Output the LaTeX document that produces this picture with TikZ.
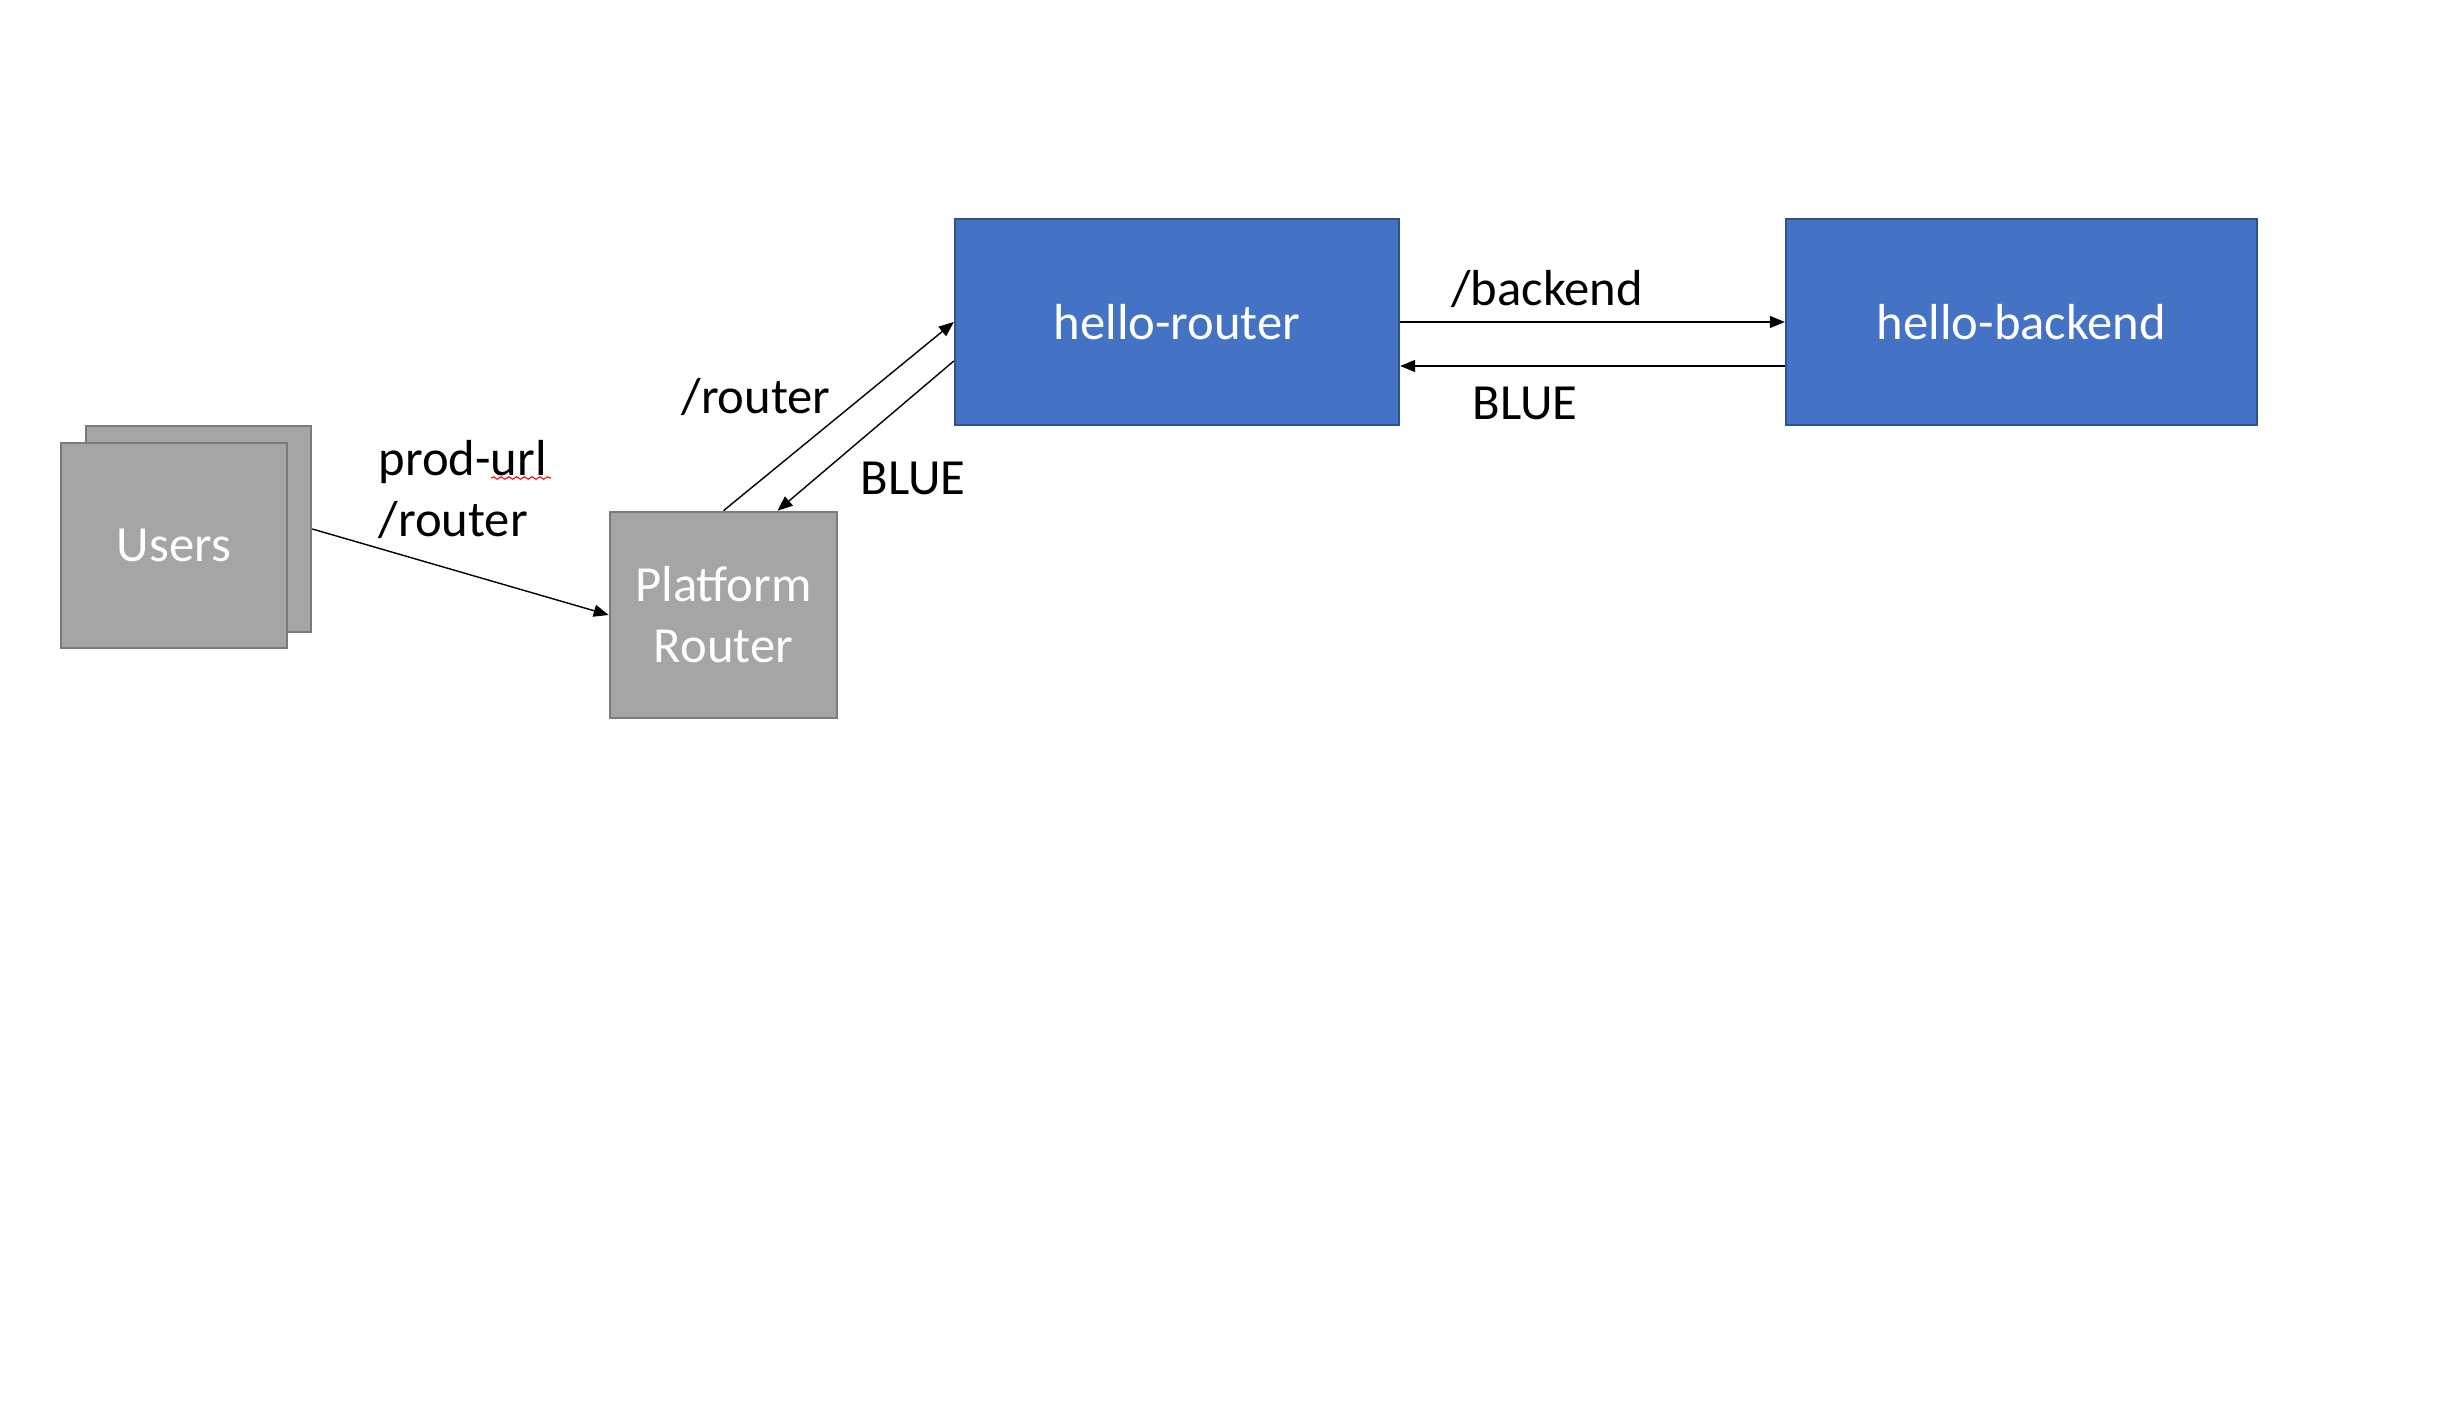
\documentclass[tikz,border=0pt]{standalone}
\usepackage{fontspec}
\setmainfont{Carlito}
\usetikzlibrary{arrows.meta,calc,decorations.pathmorphing}
\definecolor{grayfill}{HTML}{A5A5A5}
\definecolor{grayline}{HTML}{7B7B7B}
\definecolor{bluefill}{HTML}{4472C4}
\definecolor{blueline}{HTML}{2F528F}
\begin{document}
\begin{tikzpicture}[x=0.01cm,y=-0.01cm,
  every node/.style={font=\fontsize{14.4}{17.3}\selectfont},
  graybox/.style={draw=grayline, fill=grayfill, line width=0.7pt, text=white, inner sep=0pt, align=center, minimum height=2.06cm},
  bluebox/.style={draw=blueline, fill=bluefill, line width=0.6pt, text=white, inner sep=0pt, align=center, minimum height=2.06cm},
  conn/.style={line width=0.4pt, -{Triangle[length=0.15cm,width=0.12cm]}},
  lbl/.style={text=black, inner sep=0pt}]
\useasboundingbox (0,0) rectangle (2448,1416);
\node[graybox, minimum width=2.25cm] (usersback) at (198.5,529) {};
\node[graybox, minimum width=2.26cm, minimum height=2.05cm] (users) at (174,545.5) {Users};
\node[graybox, minimum width=2.27cm] (platform) at (723.5,615) {Platform\\Router};
\node[bluebox, minimum width=4.44cm] (hrouter) at (1177,322) {hello-router};
\node[bluebox, minimum width=4.71cm] (hbackend) at (2021.5,322) {hello-backend};

\draw[conn] (usersback.east) -- (platform.west);
\draw[conn] (platform.north) -- (hrouter.west);
\draw[conn] ($(hrouter.west)+(0,39)$) -- ($(platform.north)+(54,0)$);
\draw[conn] (hrouter.east) -- (hbackend.west);
\draw[conn] ($(hbackend.west)+(0,44)$) -- ($(hrouter.east)+(0,44)$);

\node[lbl, anchor=west, align=left] (lprod) at (378,489.5) {prod-url\\/router};
\coordinate (sqa) at (491,478);
\coordinate (sqb) at (551,478);
\draw[red, line width=0.3pt, decorate, decoration={snake, amplitude=0.35pt, segment length=2.2pt}] (sqa) -- (sqb);
\node[lbl] (lrouter) at (756,397) {/router};
\node[lbl] (lblue1) at (913,478) {BLUE};
\node[lbl] (lbackend) at (1547,289) {/backend};
\node[lbl] (lblue2) at (1525,403) {BLUE};
\end{tikzpicture}
\end{document}
